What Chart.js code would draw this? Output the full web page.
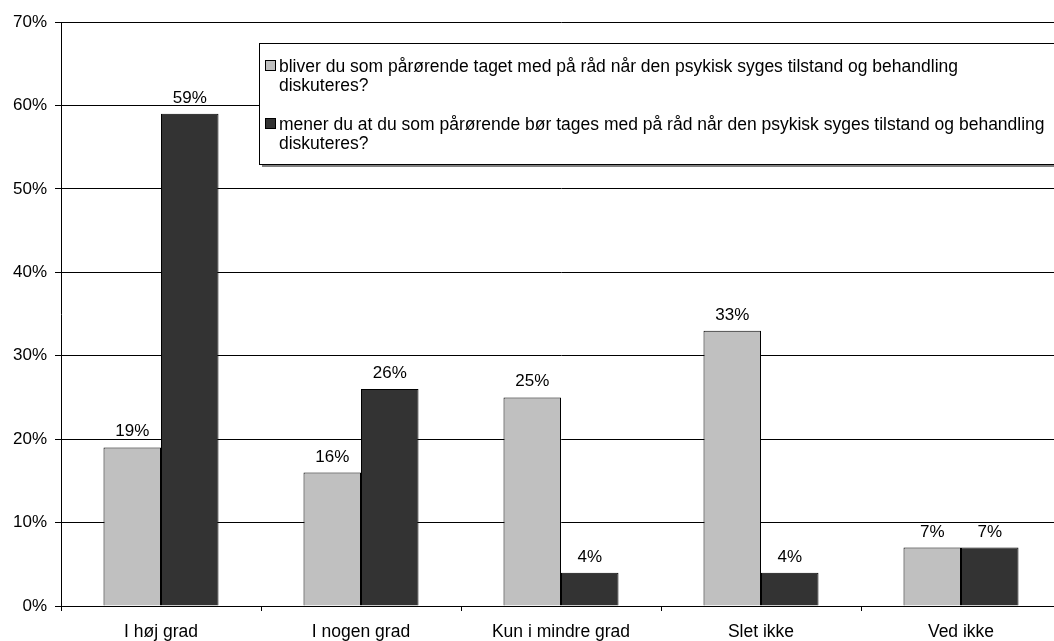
<!DOCTYPE html>
<html>
<head>
<meta charset="utf-8">
<script src="https://cdn.jsdelivr.net/npm/chart.js@4.4.0/dist/chart.umd.min.js"></script>
<style>
  body { margin: 0; overflow: hidden; background: #fff; }
  canvas { display: block; }
</style>
</head>
<body>
<canvas id="bar-chart" width="1080" height="641"></canvas>
<script>
const categories = ["I høj grad", "I nogen grad", "Kun i mindre grad", "Slet ikke", "Ved ikke"];
const takenIntoAccount = [19, 16, 25, 33, 7];
const shouldBeTaken = [59, 26, 4, 4, 7];
const seriesLabels = [
    ["bliver du som pårørende taget med på råd når den psykisk syges tilstand og behandling", "diskuteres?"],
    ["mener du at du som pårørende bør tages med på råd når den psykisk syges tilstand og behandling", "diskuteres?"]
];
const yTicks = [0, 10, 20, 30, 40, 50, 60, 70];
const colors = ["#c0c0c0", "#333333"];
const FONT = '"Liberation Sans", Arial, sans-serif';

// value above each bar
const valueLabels = {
    id: "valueLabels",
    afterDatasetsDraw(chart) {
        const ctx = chart.ctx;
        ctx.save();
        ctx.font = "17px " + FONT;
        ctx.fillStyle = "#000";
        ctx.textAlign = "center";
        ctx.textBaseline = "alphabetic";
        chart.data.datasets.forEach(function(ds, i) {
            chart.getDatasetMeta(i).data.forEach(function(bar, j) {
                ctx.fillText(ds.data[j] + "%", bar.x, bar.y - 11);
            });
        });
        ctx.restore();
    }
};

// boxed legend with wrapped text and shadow, like the original
const boxLegend = {
    id: "boxLegend",
    afterDraw(chart) {
        const ctx = chart.ctx;
        const x = 259, y = 43, w = 900, h = 121;
        ctx.save();
        ctx.fillStyle = "#808080";
        ctx.fillRect(x + 3, y + h, w, 3);
        ctx.fillStyle = "#fff";
        ctx.fillRect(x, y, w, h);
        ctx.strokeStyle = "#000";
        ctx.lineWidth = 1;
        ctx.strokeRect(x + 0.5, y + 0.5, w, h);
        ctx.font = "17.5px " + FONT;
        ctx.textBaseline = "alphabetic";
        const itemTops = [72, 130];
        chart.data.datasets.forEach(function(ds, i) {
            const base = itemTops[i];
            ctx.fillStyle = ds.backgroundColor;
            ctx.fillRect(265.5, base - 11.5, 10, 10);
            ctx.strokeRect(265.5, base - 11.5, 10, 10);
            ctx.fillStyle = "#000";
            ds.label.forEach(function(line, k) {
                ctx.fillText(line, 279, base + k * 19);
            });
        });
        ctx.restore();
    }
};

new Chart(document.getElementById("bar-chart"), {
    type: "bar",
    data: {
        labels: categories,
        datasets: [{
            label: seriesLabels[0],
            data: takenIntoAccount,
            backgroundColor: colors[0],
            borderColor: "#000",
            borderWidth: 1
        }, {
            label: seriesLabels[1],
            data: shouldBeTaken,
            backgroundColor: colors[1],
            borderColor: "#000",
            borderWidth: 1
        }]
    },
    options: {
        responsive: false,
        animation: false,
        categoryPercentage: 0.575,
        barPercentage: 1,
        layout: { padding: { top: 22, right: 19, left: 0, bottom: 0 } },
        plugins: {
            legend: { display: false },
            tooltip: { enabled: false }
        },
        scales: {
            x: {
                grid: { drawOnChartArea: false, drawTicks: true, tickLength: 5, color: "#000", offset: true },
                border: { color: "#000" },
                ticks: { color: "#000", font: { family: FONT, size: 17.5 }, padding: 11, maxRotation: 0 },
                afterFit: function(s) { s.height = 35; }
            },
            y: {
                min: 0,
                max: 70,
                afterBuildTicks: function(s) { s.ticks = yTicks.map(function(v) { return { value: v }; }); },
                grid: { color: "#000", tickLength: 6 },
                border: { color: "#000" },
                ticks: {
                    color: "#000",
                    font: { family: FONT, size: 17 },
                    padding: 8,
                    callback: function(v) { return v + "%"; }
                },
                afterFit: function(s) { s.width = 61; }
            }
        }
    },
    plugins: [valueLabels, boxLegend]
});
</script>
</body>
</html>
